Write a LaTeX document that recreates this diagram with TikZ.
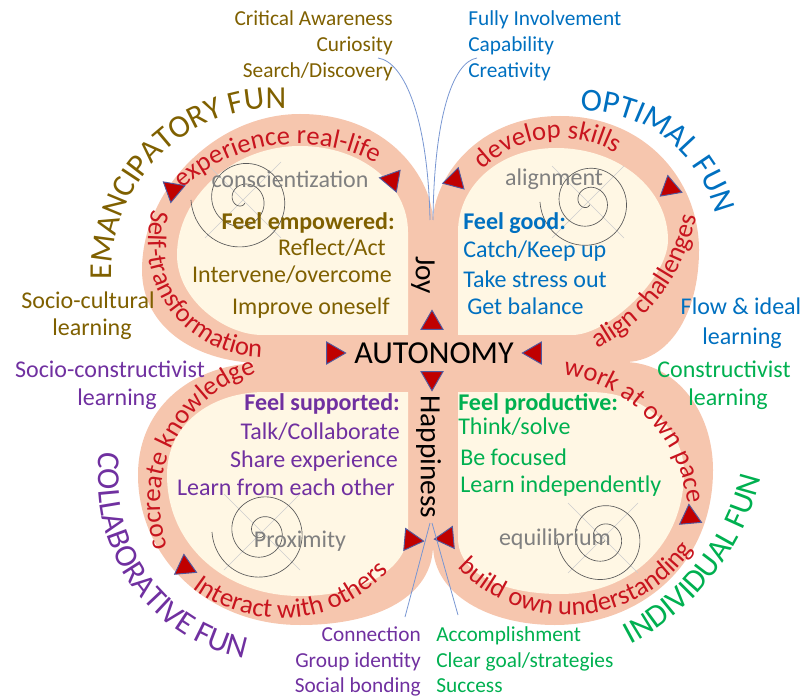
\documentclass[tikz,border=0pt]{standalone}
\usepackage{fontspec}
\setmainfont{Carlito}
\usetikzlibrary{decorations.text,shapes.geometric,calc}
\definecolor{salmonband}{RGB}{246,198,174}
\definecolor{creamfill}{RGB}{255,247,228}
\definecolor{olivetxt}{RGB}{127,96,0}
\definecolor{bluetxt}{RGB}{0,112,192}
\definecolor{purpletxt}{RGB}{112,48,160}
\definecolor{greentxt}{RGB}{0,176,80}
\definecolor{bandred}{RGB}{200,20,30}
\definecolor{trired}{RGB}{192,0,0}
\definecolor{triedge}{RGB}{80,90,160}
\definecolor{spiralgray}{RGB}{90,90,90}
\definecolor{crossgray}{RGB}{205,205,205}
\definecolor{graytxt}{RGB}{128,128,128}
\definecolor{cxncol}{RGB}{120,150,210}
\newcommand\bandfont{\fontsize{20}{24}\selectfont}
\newcommand\titlefont{\fontsize{24}{28}\selectfont}
\begin{document}
\begin{tikzpicture}[x=0.75pt,y=-0.75pt,
  lab16/.style={inner sep=0pt, font=\fontsize{16}{19}\selectfont, text height=10pt, text depth=0pt},
  lab18/.style={inner sep=0pt, font=\fontsize{18}{21}\selectfont, text height=11.2pt, text depth=0pt},
  lab18b/.style={inner sep=0pt, font=\fontsize{18}{21}\selectfont\bfseries, text height=11.2pt, text depth=0pt},
  lab22/.style={inner sep=0pt, font=\fontsize{22}{26}\selectfont, text height=13.7pt, text depth=0pt},
  tri/.style={regular polygon, regular polygon sides=3, minimum size=19pt, inner sep=0pt, fill=trired, draw=triedge, line width=0.7pt},
  cxn/.style={draw=cxncol, line width=0.6pt},
  spir/.style={draw=spiralgray, line width=0.5pt},
  crossl/.style={draw=crossgray, line width=0.5pt},
  bandtext/.style={decorate, decoration={text along path, text align=center, text color=bandred, text={|\bandfont|#1}}},
]
\useasboundingbox (0,0) rectangle (806,698);

% salmon outer shapes (one path)
\fill[salmonband]
  (433,363) -- (433,222) .. controls (433,180) and (390,114) .. (300,114) .. controls (215,114) and (142,190) .. (142,270) .. controls (142,330) and (200,363) .. (262,363) -- cycle
  (433,363) -- (433,222) .. controls (433,180) and (476,116) .. (560,116) .. controls (645,116) and (699,180) .. (699,250) .. controls (699,315) and (668,362) .. (625,362) -- cycle
  (433,363) -- (625,362) .. controls (675,363) and (713,410) .. (713,470) .. controls (713,565) and (640,625) .. (555,625) .. controls (490,625) and (433,595) .. (433,545) -- cycle
  (433,363) -- (433,545) .. controls (433,595) and (380,625) .. (300,625) .. controls (205,625) and (138,555) .. (138,475) .. controls (138,405) and (195,363) .. (262,363) -- cycle;

% cream inner shapes
\fill[creamfill] (408,335) -- (408,232) .. controls (408,185) and (362,146) .. (300,146) .. controls (232,146) and (177,198) .. (177,255) .. controls (177,300) and (225,335) .. (262,335) -- cycle;
\fill[creamfill] (458,335) -- (458,232) .. controls (458,185) and (500,148) .. (556,148) .. controls (620,148) and (668,190) .. (668,240) .. controls (668,278) and (608,335) .. (572,335) -- cycle;
\fill[creamfill] (458,392) -- (590,392) .. controls (645,392) and (684,430) .. (684,472) .. controls (684,545) and (630,594) .. (560,594) .. controls (505,594) and (458,575) .. (458,538) -- cycle;
\fill[creamfill] (408,392) -- (408,532) .. controls (408,570) and (360,596) .. (300,596) .. controls (225,596) and (167,545) .. (167,475) .. controls (167,425) and (210,392) .. (265,392) -- cycle;

% crosshairs and spirals
\draw[crossl] (205,162) -- (281,238) (205,238) -- (281,162);
\draw[crossl] (552,166) -- (624,238) (552,238) -- (624,166);
\draw[crossl] (224,494) -- (300,570) (224,570) -- (300,494);
\draw[crossl] (568,503) -- (638,573) (568,573) -- (638,503);
\draw[spir] plot[domain=60:900, samples=200, smooth, variable=\t] ({243+0.057778*\t*cos(\t)},{200+0.057778*\t*sin(\t)});
\draw[spir] plot[domain=60:900, samples=200, smooth, variable=\t] ({588+0.053333*\t*cos(\t)},{202+0.053333*\t*sin(\t)});
\draw[spir] plot[domain=60:900, samples=200, smooth, variable=\t] ({262+0.055556*\t*cos(\t)},{532+0.055556*\t*sin(\t)});
\draw[spir] plot[domain=60:900, samples=200, smooth, variable=\t] ({603+0.051111*\t*cos(\t)},{538+0.051111*\t*sin(\t)});

% arc titles
\path[decorate, decoration={text along path, text align=center, text color=olivetxt, text={|\titlefont|EMANCIPATORY FUN}}]
  ($(276,272)+(170:164)$) arc[start angle=170, end angle=281, radius=164];
\path[decorate, decoration={text along path, text align=center, text color=bluetxt, text={|\titlefont|OPTIMAL FUN}}]
  ($(584,246)+(255:135)$) arc[start angle=255, end angle=360, radius=135];
\path[decorate, decoration={text along path, text align=center, text color=purpletxt, text={|\titlefont|COLLABORATIVE FUN}}]
  ($(280,480)+(200:182)$) arc[start angle=200, end angle=90, radius=182];
\path[decorate, decoration={text along path, text align=center, text color=greentxt, text={|\titlefont|INDIVIDUAL FUN}}]
  ($(513,418)+(72:255)$) arc[start angle=72, end angle=4, radius=255];

% band texts
\path[bandtext={experience real-life}] ($(298,316)+(212:172)$) arc[start angle=212, end angle=313, radius=172];
\path[bandtext={Self-transformation}] ($(263,242)+(214:115)$) arc[start angle=214, end angle=73, radius=115];
\path[bandtext={develop skills}] ($(560,249)+(213:111)$) arc[start angle=213, end angle=313, radius=111];
\path[bandtext={align challenges}] ($(512,181)+(77:188)$) arc[start angle=77, end angle=-3, radius=188];
\path[bandtext={work at own pace}] ($(544,518)+(266:144)$) arc[start angle=266, end angle=366, radius=144];
\path[bandtext={build own understanding}] ($(568,463)+(155:152)$) arc[start angle=155, end angle=16, radius=152];
\path[bandtext={Interact with others}] ($(281,471)+(140:147)$) arc[start angle=140, end angle=30, radius=147];
\path[bandtext={cocreate knowledge}] ($(296,503)+(152:136)$) arc[start angle=152, end angle=262, radius=136];

% gray petal labels
\node[lab18, text=graytxt] (consc) at (290,180) {conscientization};
\node[lab18, text=graytxt] (align) at (554,178) {alignment};
\node[lab18, text=graytxt] (proxi) at (300,540) {Proximity};
\node[lab18, text=graytxt] (equil) at (555,538) {equilibrium};

% inner texts
\node[lab18b, anchor=east, text=olivetxt] (empow) at (395,222) {Feel empowered:};
\node[lab18, anchor=east, text=olivetxt] (reflect) at (386,248) {Reflect/Act};
\node[lab18, anchor=east, text=olivetxt] (interv) at (392,275) {Intervene/overcome};
\node[lab18, anchor=east, text=olivetxt] (improve) at (390,307) {Improve oneself};

\node[lab18b, anchor=west, text=bluetxt] (good) at (463,222) {Feel good:};
\node[lab18, anchor=west, text=bluetxt] (catch) at (463,250) {Catch/Keep up};
\node[lab18, anchor=west, text=bluetxt] (stress) at (463,280) {Take stress out};
\node[lab18, anchor=west, text=bluetxt] (balance) at (467,307) {Get balance};

\node[lab18b, anchor=east, text=purpletxt] (suppo) at (400,403) {Feel supported:};
\node[lab18, anchor=east, text=purpletxt] (talk) at (400,432) {Talk/Collaborate};
\node[lab18, anchor=east, text=purpletxt] (share) at (398,460) {Share experience};
\node[lab18, anchor=east, text=purpletxt] (learnfrom) at (395,488) {Learn from each other};

\node[lab18b, anchor=west, text=greentxt] (produ) at (458,403) {Feel productive:};
\node[lab18, anchor=west, text=greentxt] (think) at (458,427) {Think/solve};
\node[lab18, anchor=west, text=greentxt] (focus) at (460,458) {Be focused};
\node[lab18, anchor=west, text=greentxt] (indep) at (460,485) {Learn independently};

% center
\node[inner sep=0pt, font=\fontsize{24}{28}\selectfont, text height=15.5pt, text depth=0pt] (auto) at (434,353) {AUTONOMY};
\node[lab22, rotate=-90] (joy) at (425,275) {Joy};
\node[lab22, rotate=-90] (happy) at (430,457) {Happiness};

% outer labels
\node[lab16, anchor=east, text=olivetxt] (crit) at (393,19) {Critical Awareness};
\node[lab16, anchor=east, text=olivetxt] (curio) at (393,45) {Curiosity};
\node[lab16, anchor=east, text=olivetxt] (search) at (393,71) {Search/Discovery};
\node[lab16, anchor=west, text=bluetxt] (fully) at (468,19) {Fully Involvement};
\node[lab16, anchor=west, text=bluetxt] (capab) at (468,45) {Capability};
\node[lab16, anchor=west, text=bluetxt] (creat) at (468,71) {Creativity};
\node[lab16, anchor=east, text=purpletxt] (conn) at (421,635) {Connection};
\node[lab16, anchor=east, text=purpletxt] (groupid) at (421,661) {Group identity};
\node[lab16, anchor=east, text=purpletxt] (social) at (421,686) {Social bonding};
\node[lab16, anchor=west, text=greentxt] (accomp) at (436,635) {Accomplishment};
\node[lab16, anchor=west, text=greentxt] (cleargoal) at (436,661) {Clear goal/strategies};
\node[lab16, anchor=west, text=greentxt] (success) at (436,686) {Success};

\node[lab18, text=olivetxt] (socult1) at (88,301) {Socio-cultural};
\node[lab18, text=olivetxt] (socult2) at (92,328) {learning};
\node[lab18, text=purpletxt] (socon1) at (110,370) {Socio-constructivist};
\node[lab18, text=purpletxt] (socon2) at (117,398) {learning};
\node[lab18, text=bluetxt] (flow1) at (741,307) {Flow \& ideal};
\node[lab18, text=bluetxt] (flow2) at (742,337) {learning};
\node[lab18, text=greentxt] (constr1) at (724,370) {Constructivist};
\node[lab18, text=greentxt] (constr2) at (728,398) {learning};

% triangles
\node[tri, rotate=-70] (t1) at (173,190) {};
\node[tri, rotate=200] (t2) at (392,180) {};
\node[tri, rotate=105] (t3) at (455,180) {};
\node[tri, rotate=10] (t4) at (670,188) {};
\node[tri, rotate=0] (t5) at (432,323) {};
\node[tri, rotate=180] (t6) at (432,378) {};
\node[tri, rotate=-90] (t7) at (333,353) {};
\node[tri, rotate=90] (t8) at (535,353) {};
\node[tri, rotate=-115] (t9) at (185,567) {};
\node[tri, rotate=-95] (t10) at (411,540) {};
\node[tri, rotate=95] (t11) at (447,538) {};
\node[tri, rotate=5] (t12) at (690,517) {};

% connectors
\coordinate (cl) at (378,58);
\coordinate (cr) at (477,58);
\coordinate (tn1) at (430,220);
\coordinate (tn2) at (433,220);
\coordinate (bn1) at (430,523);
\coordinate (bn2) at (432,523);
\coordinate (bl) at (405,617);
\coordinate (br) at (458,615);
\draw[cxn] (cl) .. controls (405,62) and (428,120) .. (tn1);
\draw[cxn] (cr) .. controls (452,62) and (434,120) .. (tn2);
\draw[cxn] (bn1) -- (bl);
\draw[cxn] (bn2) -- (br);
\end{tikzpicture}
\end{document}
